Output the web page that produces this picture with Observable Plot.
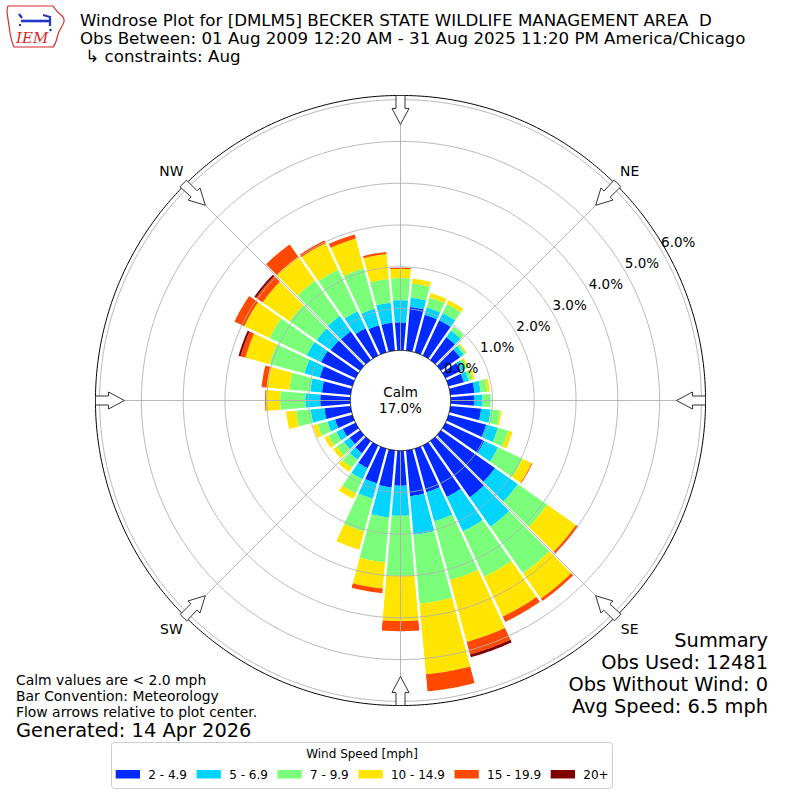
<!DOCTYPE html>
<html>
<head>
<meta charset="utf-8">
<title>Windrose</title>
<script src="https://cdn.jsdelivr.net/npm/d3@7"></script>
<script src="https://cdn.jsdelivr.net/npm/@observablehq/plot@0.6"></script>
<style>
  html, body { margin: 0; padding: 0; background: #fff; }
  #wrap { position: relative; width: 800px; height: 800px; overflow: hidden; font-family: "DejaVu Sans", sans-serif; }
  #chart, #overlay { position: absolute; left: 0; top: 0; }
  #overlay { pointer-events: none; font-family: "DejaVu Sans", sans-serif; }
  #overlay text { white-space: pre; }
</style>
</head>
<body>
<div id="wrap">
  <div id="chart"></div>
  <svg id="overlay" width="800" height="800" xmlns="http://www.w3.org/2000/svg" xml:space="preserve"></svg>
</div>
<script>
// ---------------- data ----------------
const directions = [0,10,20,30,40,50,60,70,80,90,100,110,120,130,140,150,160,170,180,190,200,210,220,230,240,250,260,270,280,290,300,310,320,330,340,350];
const speedBins = ["2 - 4.9","5 - 6.9","7 - 9.9","10 - 14.9","15 - 19.9","20+"];
const binColors = ["#002aff","#00d4ff","#7bff7b","#ffe500","#ff4900","#800000"];
// percent of observations per direction and speed bin
const pct2to5   = [0.67,1.05,0.93,0.93,0.67,0.56,0.41,0.38,0.58,0.56,0.74,0.93,1.03,1.58,1.65,1.36,1.08,1.10,0.84,0.89,0.86,0.60,0.36,0.31,0.34,0.43,0.63,0.72,0.69,0.81,0.91,0.86,0.84,0.72,0.67,0.67];
const pct5to7   = [0.53,0.22,0.18,0.19,0.19,0.11,0.10,0.12,0.15,0.20,0.23,0.29,0.36,0.67,0.86,0.91,0.72,0.93,0.72,0.72,0.38,0.29,0.19,0.17,0.17,0.19,0.33,0.36,0.28,0.38,0.38,0.41,0.45,0.45,0.41,0.48];
const pct7to10  = [0.53,0.34,0.25,0.24,0.12,0.07,0.07,0.10,0.16,0.20,0.22,0.26,0.65,0.86,1.36,1.20,1.46,1.65,1.44,1.08,0.81,0.38,0.24,0.21,0.21,0.24,0.35,0.60,0.50,0.86,0.98,0.79,1.03,1.10,1.00,0.57];
const pct10to15 = [0.22,0.12,0.11,0.10,0,0.02,0.04,0.05,0.06,0,0.04,0.10,0.24,0.84,0.74,1.05,1.53,1.70,1.08,0.63,0.45,0.14,0.12,0.10,0.10,0.12,0.24,0.34,0.55,0.60,0.67,0.79,0.70,0.70,0.74,0.60];
const pct15to20 = [0.03,0,0,0,0,0,0,0,0,0,0,0,0.02,0.06,0.07,0.14,0.31,0.41,0.24,0.11,0,0,0,0,0,0,0,0.02,0.12,0.12,0.26,0.19,0.36,0.07,0.10,0.05];
const pct20up   = [0,0,0,0,0,0,0,0,0,0,0,0,0,0,0,0,0.07,0,0,0,0,0,0,0,0,0,0,0,0,0.05,0,0.05,0,0,0,0];
const calmPercent = 17.0;
const radialTicks = [0,1,2,3,4,5,6];
const compassNames = ["N","NE","E","SE","S","SW","W","NW"];
const compassAngles = [0,45,90,135,180,225,270,315];
const titleLines = [
  "Windrose Plot for [DMLM5] BECKER STATE WILDLIFE MANAGEMENT AREA\u00a0\u00a0D",
  "Obs Between: 01 Aug 2009 12:20 AM - 31 Aug 2025 11:20 PM America/Chicago",
  "\u00a0\u21b3 constraints: Aug"
];
const noteLines = ["Calm values are < 2.0 mph", "Bar Convention: Meteorology", "Flow arrows relative to plot center."];
const generatedText = "Generated: 14 Apr 2026";
const summaryLines = ["Summary", "Obs Used: 12481", "Obs Without Wind: 0", "Avg Speed: 6.5 mph"];
const legendTitle = "Wind Speed [mph]";

// ---------------- geometry helpers ----------------
const margin = 95;
const frameRadius = (800 - 2 * margin) / 2;
const K = 10;             // degrees of arc per 1 %
const calmOffset = 1.2;   // radial room of the calm circle, in % units
const rMax = 6.1;
const R = (rMax + calmOffset) * K;
const pxPerDeg = frameRadius / R;
const barHalfWidth = 4.7;

const lon = a => 180 - a;
const lat = u => 90 - (u + calmOffset) * K;

function wound(geometry) {
  if (d3.geoArea(geometry) > 2 * Math.PI) geometry.coordinates.forEach(r => r.reverse());
  return geometry;
}
function wedge(theta, u0, u1) {
  const n = 12, ring = [];
  for (let i = 0; i <= n; i++) ring.push([lon(theta - barHalfWidth + 2 * barHalfWidth * i / n), lat(u1)]);
  for (let i = n; i >= 0; i--) ring.push([lon(theta - barHalfWidth + 2 * barHalfWidth * i / n), lat(u0)]);
  ring.push(ring[0]);
  return wound({type: "Polygon", coordinates: [ring]});
}
function polarPx(theta, rho, s) {
  const ang = theta + Math.atan2(s, rho) * 180 / Math.PI;
  return [lon(ang), 90 - Math.hypot(rho, s) / pxPerDeg];
}
function arrow(theta) {
  const pts = [[307,-4.5],[307,4.5],[292,4.5],[292,8.5],[276,0],[292,-8.5],[292,-4.5],[307,-4.5]];
  return {type: "Feature", properties: {}, geometry: wound({type: "Polygon", coordinates: [pts.map(([r, s]) => polarPx(theta, r, s))]})};
}

const series = [pct2to5, pct5to7, pct7to10, pct10to15, pct15to20, pct20up];
const segments = [];
directions.forEach((dir, i) => {
  let base = 0;
  series.forEach((values, j) => {
    const v = values[i];
    if (v > 0) segments.push({type: "Feature", properties: {bin: speedBins[j]}, geometry: wedge(dir, base, base + v)});
    base += v;
  });
});

const separators = directions.map(d => ({type: "LineString", coordinates: [[lon(d + 5), lat(0)], [lon(d + 5), lat(rMax)]]}));
const rings = radialTicks.filter(t => t > 0).map(t => d3.geoCircle().center([0, 90]).radius((t + calmOffset) * K).precision(0.5)());
const spokes = compassAngles.map(a => ({type: "LineString", coordinates: [[lon(a), 90], [lon(a), 90 - R]]}));

const chart = Plot.plot({
  width: 800,
  height: 800,
  margin,
  style: {fontFamily: '"DejaVu Sans", sans-serif', fontSize: "13.5px", background: "transparent", color: "#000", overflow: "visible"},
  projection: {type: "azimuthal-equidistant", rotate: [0, -90], domain: d3.geoCircle().center([0, 90]).radius(R)()},
  color: {domain: speedBins, range: binColors},
  marks: [
    Plot.geo(segments, {fill: d => d.properties.bin}),
    Plot.geo(separators, {stroke: "white", strokeWidth: 2.4}),
    Plot.geo(rings, {stroke: "#b0b0b0", strokeWidth: 0.9, fill: "none"}),
    Plot.geo(spokes, {stroke: "#b0b0b0", strokeWidth: 0.9}),
    Plot.geo([d3.geoCircle().center([0, 90]).radius(R).precision(0.5)()], {stroke: "black", strokeWidth: 1, fill: "none"}),
    Plot.geo([d3.geoCircle().center([0, 90]).radius(calmOffset * K).precision(0.5)()], {stroke: "black", strokeWidth: 1, fill: "white"}),
    Plot.geo(compassAngles.map(arrow), {fill: "white", stroke: "#333", strokeWidth: 1}),
    Plot.text(compassNames, {x: (d, i) => lon(compassAngles[i]), y: () => 90 - 324 / pxPerDeg, text: d => d, fontSize: 13.9}),
    Plot.text(radialTicks, {x: () => lon(60), y: t => lat(t), text: t => t.toFixed(1) + "%", textAnchor: "start", dy: -7, fontSize: 13.5}),
    Plot.text(["Calm"], {x: () => 0, y: () => 90, text: d => d, dy: -8, fontSize: 13.5}),
    Plot.text([calmPercent.toFixed(1) + "%"], {x: () => 0, y: () => 90, text: d => d, dy: 8, fontSize: 13.5})
  ]
});
document.getElementById("chart").appendChild(chart);

// ---------------- annotations ----------------
const svg = d3.select("#overlay");

// logo
const logo = svg.append("g");
logo.append("path")
  .attr("d", "M8,6 L53,6 C55,9 57,12 61,15 C65,18 65,22 62,26 C60,29 58,33 57,38 C56,42 55,45 53,47 L14,47 C12,43 11,38 10,33 C9,26 8,19 7,12 C7,9 7,8 8,6 Z")
  .attr("fill", "none").attr("stroke", "#d42a2a").attr("stroke-width", 1.2);
logo.append("path").attr("d", "M21,21 L49,21").attr("stroke", "#1f36c8").attr("stroke-width", 2.6).attr("fill", "none");
logo.append("path").attr("d", "M43,15 L50,17 L50,26 M19,14 L22,18 M19,25 L21,25 M50,29 L51,31").attr("stroke", "#1f36c8").attr("stroke-width", 2.2).attr("fill", "none");
logo.append("text").attr("x", 16).attr("y", 43).attr("fill", "#d42a2a")
  .attr("font-family", '"DejaVu Serif", "Liberation Serif", serif').attr("font-style", "italic").attr("font-size", 15).text("IEM");

// title
titleLines.forEach((t, i) => svg.append("text").attr("x", 80).attr("y", 26 + i * 18).attr("font-size", 16.67).text(t));

// notes
noteLines.forEach((t, i) => svg.append("text").attr("x", 16).attr("y", 685 + i * 16).attr("font-size", 13.9).text(t));
svg.append("text").attr("x", 16).attr("y", 737).attr("font-size", 19.4).text(generatedText);

// summary
summaryLines.forEach((t, i) => svg.append("text").attr("x", 768).attr("y", 647 + i * 22).attr("text-anchor", "end").attr("font-size", 19.4).text(t));

// legend
svg.append("rect").attr("x", 111.5).attr("y", 742.5).attr("width", 501).attr("height", 46).attr("rx", 3)
  .attr("fill", "white").attr("stroke", "#cccccc");
svg.append("text").attr("x", 362).attr("y", 757.5).attr("text-anchor", "middle").attr("font-size", 12).text(legendTitle);
let lx = 115.7;
speedBins.forEach((b, i) => {
  svg.append("rect").attr("x", lx).attr("y", 770).attr("width", 24.3).attr("height", 8.5).attr("fill", binColors[i]);
  const t = svg.append("text").attr("x", lx + 32.6).attr("y", 778.5).attr("font-size", 12).text(b);
  lx = lx + 32.6 + t.node().getComputedTextLength() + 9.6;
});
</script>
</body>
</html>
